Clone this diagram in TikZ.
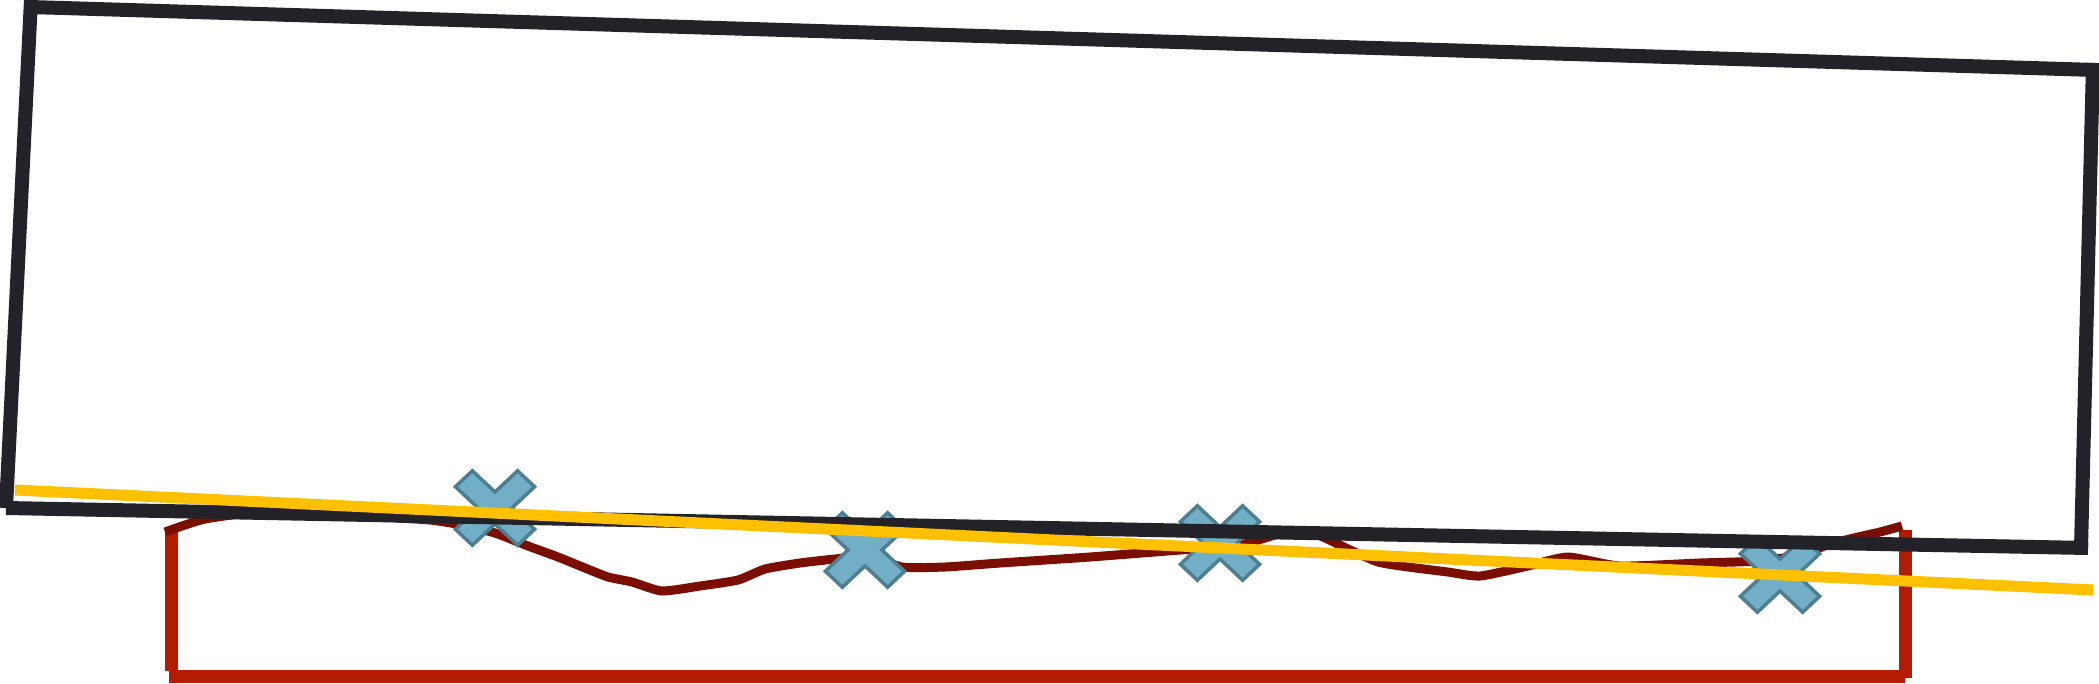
\documentclass[tikz,border=0pt]{standalone}
\begin{document}
\begin{tikzpicture}[x=1pt,y=-1pt,
  blackline/.style={line width=14pt, draw=blk, line cap=butt},
  redline/.style={line width=13pt, draw=redc, line cap=butt},
  wave/.style={line width=9pt, draw=brn, line join=round, line cap=butt},
  xmark/.style={fill=xfill, draw=xedge, line width=3.5pt, line join=miter},
  yline/.style={line width=11pt, draw=ylw, line cap=butt}]
\definecolor{blk}{RGB}{34,34,40}
\definecolor{redc}{RGB}{178,28,2}
\definecolor{brn}{RGB}{122,14,0}
\definecolor{xfill}{RGB}{114,174,197}
\definecolor{xedge}{RGB}{78,126,146}
\definecolor{ylw}{RGB}{255,192,0}
\useasboundingbox (0,0) rectangle (2099,683);
\fill[white] (0,0) rectangle (2099,683);
% corners
\coordinate (btl) at (30,7);
\coordinate (btr) at (2096,70);
\coordinate (bbr) at (2081,548);
\coordinate (bbl) at (6,508);
\coordinate (rtl) at (171,529);
\coordinate (rbl) at (171,671);
\coordinate (rbr) at (1905,676);
\coordinate (rtr) at (1905,530);
% red box
\draw[redline] (rtl) -- (rbl);
\draw[redline] (169,676) -- (rbr);
\draw[redline] (1905,678) -- (rtr);
% wavy profile
\draw[wave] plot[smooth, tension=0.35] coordinates {
 (165,532) (185,525) (205,519) (240,514) (280,512) (330,514) (380,517)
 (430,520) (462,525) (495,533) (528,546) (558,557) (585,568)
 (608,577) (632,582) (662,591) (700,586) (738,580) (765,569) (800,563)
 (835,559) (870,556) (902,567) (945,567) (1000,563) (1090,557) (1180,550)
 (1235,546) (1265,538) (1290,531) (1318,535) (1348,549) (1378,562)
 (1408,567) (1448,572) (1480,576) (1528,566) (1568,557) (1620,566)
 (1700,563) (1760,561) (1800,555) (1830,544) (1858,537) (1880,532)
 (1902,526)};
% X markers
\foreach \n/\cx/\cy in {x1/495/508, x2/865/550, x3/1220/543, x4/1780/575}{
  \begin{scope}[shift={(\cx,\cy)}, yscale=0.94, rotate=45]
    \draw[xmark] (12,12) -- (12,44) -- (-12,44) -- (-12,12) -- (-44,12) -- (-44,-12)
      -- (-12,-12) -- (-12,-44) -- (12,-44) -- (12,-12) -- (44,-12) -- (44,12) -- cycle;
  \end{scope}
}
% black frame
\draw[blackline] (btl) -- (btr);
\draw[blackline] (2093,63) -- (bbr);
\draw[blackline] (2088,548) -- (bbl);
\draw[blackline] (bbl) -- (31,0);
% yellow line
\coordinate (ya) at (15,490);
\coordinate (yb) at (2093,590);
\draw[yline] (ya) -- (yb);
\end{tikzpicture}
\end{document}
